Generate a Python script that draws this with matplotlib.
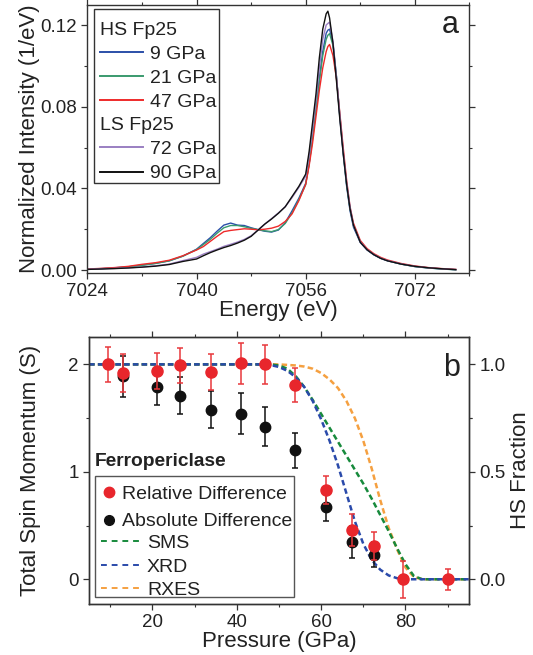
import matplotlib
matplotlib.use("Agg")
import matplotlib.pyplot as plt
from matplotlib.patches import Rectangle
from matplotlib.lines import Line2D
from matplotlib.ticker import MultipleLocator

plt.rcParams['font.family'] = ['Liberation Sans', 'DejaVu Sans']

# ---------------- Panel a data ----------------
energy = [7024, 7026, 7028, 7030, 7032, 7034, 7036, 7038,
          7040, 7041, 7042, 7043, 7044, 7045, 7046, 7047, 7048, 7049, 7050,
          7051, 7052, 7053, 7054, 7055, 7056,
          7056.5, 7057, 7057.5, 7058, 7058.5, 7059, 7059.25, 7059.5, 7060, 7060.5,
          7061, 7061.5, 7062, 7062.5, 7063,
          7064, 7065, 7066, 7067, 7068,
          7070, 7072, 7074, 7076, 7078]

hs_9 = [0.0004, 0.0007, 0.0011, 0.0016, 0.0024, 0.0033, 0.0045, 0.0068,
        0.0102, 0.0130, 0.0158, 0.0190, 0.0220, 0.0230, 0.0220, 0.0218, 0.0207, 0.0198, 0.0190,
        0.0186, 0.0196, 0.0232, 0.0290, 0.0352, 0.0425,
        0.052, 0.065, 0.079, 0.094, 0.107, 0.116, 0.1175, 0.118, 0.111, 0.095,
        0.075, 0.057, 0.041, 0.029, 0.021,
        0.0135, 0.0098, 0.0074, 0.0057, 0.0045,
        0.0029, 0.0017, 0.0010, 0.0005, 0.0002]
hs_21 = [0.0003, 0.0006, 0.0010, 0.0015, 0.0023, 0.0032, 0.0045, 0.0068,
         0.0100, 0.0125, 0.0150, 0.0180, 0.0207, 0.0218, 0.0218, 0.0212, 0.0204, 0.0198, 0.0192,
         0.0188, 0.0198, 0.0228, 0.0280, 0.0345, 0.0418,
         0.052, 0.064, 0.078, 0.092, 0.105, 0.113, 0.1150, 0.1158, 0.110, 0.095,
         0.076, 0.058, 0.042, 0.030, 0.022,
         0.0140, 0.0101, 0.0076, 0.0058, 0.0046,
         0.0029, 0.0017, 0.0010, 0.0005, 0.0001]
hs_47 = [0.0005, 0.0008, 0.0012, 0.0018, 0.0028, 0.0036, 0.0048, 0.0070,
         0.0098, 0.0115, 0.0140, 0.0165, 0.0188, 0.0194, 0.0198, 0.0202, 0.0200, 0.0197, 0.0200,
         0.0205, 0.0215, 0.0238, 0.0275, 0.0340, 0.0420,
         0.051, 0.062, 0.075, 0.088, 0.099, 0.107, 0.1095, 0.1105, 0.105, 0.094,
         0.077, 0.060, 0.044, 0.031, 0.023,
         0.0145, 0.0105, 0.0080, 0.0062, 0.0049,
         0.0032, 0.0020, 0.0012, 0.0007, 0.0003]
ls_72 = [0.0004, 0.0006, 0.0008, 0.0011, 0.0015, 0.0021, 0.0029, 0.0046,
         0.0062, 0.0078, 0.0090, 0.0102, 0.0116, 0.0126, 0.0137, 0.0150, 0.0168, 0.0196, 0.0225,
         0.0252, 0.0280, 0.0310, 0.0355, 0.0405, 0.0460,
         0.056, 0.069, 0.083, 0.099, 0.113, 0.1200, 0.1208, 0.1214, 0.112, 0.095,
         0.076, 0.058, 0.043, 0.031, 0.022,
         0.0138, 0.0100, 0.0076, 0.0058, 0.0046,
         0.0030, 0.0018, 0.0011, 0.0006, 0.0002]
ls_90 = [0.0003, 0.0005, 0.0007, 0.0010, 0.0014, 0.0019, 0.0027, 0.0042,
         0.0054, 0.0070, 0.0085, 0.0098, 0.0110, 0.0120, 0.0132, 0.0146, 0.0165, 0.0195, 0.0225,
         0.0250, 0.0278, 0.0310, 0.0360, 0.0410, 0.0470,
         0.058, 0.072, 0.086, 0.104, 0.118, 0.1255, 0.1268, 0.1235, 0.111, 0.093,
         0.074, 0.057, 0.042, 0.030, 0.022,
         0.0136, 0.0099, 0.0075, 0.0057, 0.0045,
         0.0029, 0.0018, 0.0011, 0.0006, 0.0002]

hs_labels = ["9 GPa", "21 GPa", "47 GPa"]
ls_labels = ["72 GPa", "90 GPa"]
hs_colors = ["#2b4fa8", "#3a9a6e", "#ee2a2a"]
ls_colors = ["#9a7fc2", "#111111"]

# ---------------- Panel b data ----------------
p_rel = [9.4, 13.0, 21.1, 26.5, 34.0, 41.0, 46.7, 53.9, 61.1, 67.3, 72.5, 79.4, 90.2]
s_rel = [2.0, 1.92, 1.94, 1.99, 1.93, 2.01, 2.0, 1.81, 0.83, 0.46, 0.31, 0.0, 0.0]
e_rel = [0.16, 0.18, 0.17, 0.16, 0.17, 0.19, 0.18, 0.16, 0.13, 0.15, 0.13, 0.17, 0.10]

p_abs = [13.0, 21.1, 26.5, 34.0, 41.0, 46.7, 53.9, 61.1, 67.3, 72.5]
s_abs = [1.89, 1.79, 1.71, 1.58, 1.54, 1.42, 1.20, 0.67, 0.35, 0.23]
e_abs = [0.19, 0.17, 0.17, 0.17, 0.19, 0.18, 0.16, 0.13, 0.15, 0.12]

p_sms = [5, 48, 50, 52, 54, 56, 58, 60, 62, 64, 66, 68, 70, 72, 74, 76, 78, 80, 82, 84, 95]
f_sms = [1.0, 1.0, 0.995, 0.98, 0.945, 0.895, 0.835, 0.77, 0.705, 0.64, 0.575, 0.51,
         0.445, 0.375, 0.30, 0.225, 0.145, 0.07, 0.015, 0.0, 0.0]
p_xrd = [5, 45, 48, 50, 52, 54, 56, 58, 60, 62, 64, 66, 68, 70, 72, 74, 76, 78, 80, 85, 95]
f_xrd = [1.0, 1.0, 0.997, 0.988, 0.97, 0.94, 0.895, 0.83, 0.745, 0.645, 0.53, 0.40,
         0.27, 0.165, 0.09, 0.045, 0.018, 0.005, 0.0, 0.0, 0.0]
p_rxes = [5, 50, 54, 56, 58, 60, 62, 64, 66, 68, 70, 72, 74, 76, 78, 80, 82, 84, 95]
f_rxes = [1.0, 1.0, 0.995, 0.99, 0.98, 0.96, 0.93, 0.89, 0.83, 0.75, 0.645, 0.515,
          0.37, 0.24, 0.14, 0.055, 0.01, 0.0, 0.0]

# ---------------- Figure ----------------
fig = plt.figure(figsize=(5.33, 6.55), dpi=100)
TXT = '#222222'
TICK_FS = 13.5
LAB_FS = 16
LEG_FS = 14

def style_axes(ax):
    for s in ax.spines.values():
        s.set_color('#333333')
        s.set_linewidth(1.0)
    ax.tick_params(which='both', direction='out', colors='#333333', labelcolor=TXT,
                   labelsize=TICK_FS, top=True, right=True)
    ax.tick_params(which='major', length=4.0, width=0.9)
    ax.tick_params(which='minor', length=2.5, width=0.8)

# Panel a
ax_a = fig.add_axes([0.164, 0.5837, 0.7167, 0.4092])
spectra = [hs_9, hs_21, hs_47, ls_72, ls_90]
for ys, c in zip(spectra, hs_colors + ls_colors):
    ax_a.plot(energy, ys, color=c, lw=1.0)
ax_a.set_xlim(7024, 7080)
ax_a.set_ylim(-0.0013, 0.130)
ax_a.xaxis.set_major_locator(MultipleLocator(16))
ax_a.xaxis.set_minor_locator(MultipleLocator(8))
ax_a.yaxis.set_major_locator(MultipleLocator(0.04))
ax_a.yaxis.set_minor_locator(MultipleLocator(0.02))
ax_a.yaxis.set_major_formatter(plt.FuncFormatter(lambda v, p: f"{v:.2f}"))
style_axes(ax_a)
ax_a.set_xlabel("Energy (eV)", fontsize=LAB_FS, color=TXT, labelpad=0)
ax_a.set_ylabel("Normalized Intensity (1/eV)", fontsize=LAB_FS, color=TXT)
ax_a.yaxis.set_label_coords(-0.124, 0.5)
ax_a.text(0.951, 0.924, "a", transform=ax_a.transAxes, fontsize=22, color=TXT,
          ha='center', va='center')

leg_kw = dict(fontsize=LEG_FS, frameon=False, borderpad=0, borderaxespad=0,
              handlelength=2.23, handletextpad=0.35, labelspacing=0.34,
              alignment='left', loc='upper left')
h_hs = [Line2D([], [], color=c, lw=1.4) for c in hs_colors]
h_ls = [Line2D([], [], color=c, lw=1.4) for c in ls_colors]
leg1 = ax_a.legend(h_hs, hs_labels, title="HS Fp25", title_fontsize=LEG_FS,
                   bbox_to_anchor=(0.032, 0.937), **leg_kw)
leg1.get_title().set_color(TXT)
for t in leg1.get_texts():
    t.set_color(TXT)
ax_a.add_artist(leg1)
leg2 = ax_a.legend(h_ls, ls_labels, title="LS Fp25", title_fontsize=LEG_FS,
                   bbox_to_anchor=(0.032, 0.581), **leg_kw)
leg2.get_title().set_color(TXT)
for t in leg2.get_texts():
    t.set_color(TXT)
ax_a.add_patch(Rectangle((0.016, 0.3336), 0.3296, 0.649, transform=ax_a.transAxes,
                         fill=False, edgecolor='#333333', lw=1.0, zorder=5))

# Panel b
ax_b = fig.add_axes([0.1672, 0.0779, 0.7122, 0.4076])
ax_r = ax_b.twinx()
dash = (0, (2.2, 1.3))
ax_r.plot(p_rxes, f_rxes, color='#f5a040', lw=1.8, ls=dash)
ax_r.plot(p_sms, f_sms, color='#178a3c', lw=1.8, ls=dash)
ax_r.plot(p_xrd, f_xrd, color='#2a4aaa', lw=1.8, ls=dash)

ax_b.errorbar(p_abs, s_abs, yerr=e_abs, fmt='o', color='#111111', ms=7.5,
              ecolor='#111111', elinewidth=1.1, capsize=2.5, capthick=1.1, zorder=3)
ax_b.errorbar(p_rel, s_rel, yerr=e_rel, fmt='o', color='#e8262c', ms=8,
              ecolor='#e8383c', elinewidth=1.1, capsize=2.5, capthick=1.1, zorder=4)

ax_b.set_zorder(ax_r.get_zorder() + 1)
ax_b.patch.set_visible(False)

ax_b.set_xlim(5, 95)
ax_b.set_ylim(-0.23, 2.255)
ax_r.set_ylim(-0.115, 1.1275)
ax_b.xaxis.set_major_locator(MultipleLocator(20))
ax_b.xaxis.set_minor_locator(MultipleLocator(10))
ax_b.yaxis.set_major_locator(MultipleLocator(1))
ax_b.yaxis.set_minor_locator(MultipleLocator(0.5))
ax_r.yaxis.set_major_locator(MultipleLocator(0.5))
ax_r.yaxis.set_minor_locator(MultipleLocator(0.25))
ax_r.yaxis.set_major_formatter(plt.FuncFormatter(lambda v, p: f"{v:.1f}"))
style_axes(ax_b)
ax_b.tick_params(right=False)
style_axes(ax_r)
ax_r.tick_params(left=False, top=False, bottom=False)
ax_b.set_xlabel("Pressure (GPa)", fontsize=LAB_FS, color=TXT, labelpad=0)
ax_b.set_ylabel("Total Spin Momentum (S)", fontsize=LAB_FS, color=TXT)
ax_b.yaxis.set_label_coords(-0.127, 0.5)
ax_r.set_ylabel("HS Fraction", fontsize=LAB_FS, color=TXT)
ax_r.yaxis.set_label_coords(1.108, 0.5)
ax_b.text(0.955, 0.883, "b", transform=ax_b.transAxes, fontsize=22, color=TXT,
          ha='center', va='center')

ax_b.text(0.016, 0.533, "Ferropericlase", transform=ax_b.transAxes, fontsize=13.8,
          fontweight='bold', color=TXT, ha='left', va='center')
mk_h = [Line2D([], [], color='#e8262c', marker='o', ls='none', ms=7.5),
        Line2D([], [], color='#111111', marker='o', ls='none', ms=7)]
legm = ax_b.legend(mk_h, ["Relative Difference", "Absolute Difference"], fontsize=LEG_FS,
                   frameon=False, borderpad=0, borderaxespad=0, handlelength=0.8,
                   handletextpad=0.27, labelspacing=0.49, loc='upper left',
                   bbox_to_anchor=(0.0313, 0.4435))
for t in legm.get_texts():
    t.set_color(TXT)
ax_b.add_artist(legm)
ln_h = [Line2D([], [], color='#178a3c', lw=1.4, ls=(0, (3, 2.5))),
        Line2D([], [], color='#2a4aaa', lw=1.4, ls=(0, (3, 2.5))),
        Line2D([], [], color='#f5a040', lw=1.4, ls=(0, (3, 2.5)))]
legl = ax_b.legend(ln_h, ["SMS", "XRD", "RXES"], fontsize=LEG_FS,
                   frameon=False, borderpad=0, borderaxespad=0, handlelength=2.06,
                   handletextpad=0.3, labelspacing=0.3, loc='upper left',
                   bbox_to_anchor=(0.0313, 0.2600))
for t in legl.get_texts():
    t.set_color(TXT)
ax_b.add_patch(Rectangle((0.0145, 0.0273), 0.5255, 0.4532, transform=ax_b.transAxes,
                         fill=False, edgecolor='#555555', lw=1.0, zorder=5))

fig.savefig("out.png", dpi=100)
